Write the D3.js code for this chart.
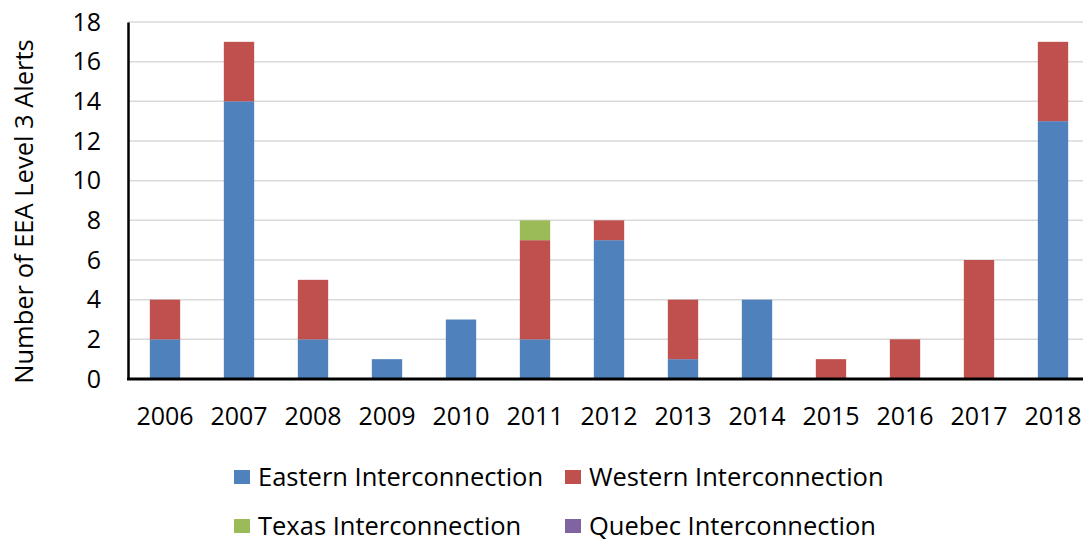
<!DOCTYPE html>
<html>
<head>
<meta charset="utf-8">
<script src="https://cdn.jsdelivr.net/npm/d3@7"></script>
<style>
  body { margin: 0; background: #fff; }
  svg { display: block; }
  text { font-family: "Open Sans", sans-serif; fill: #000; }
</style>
</head>
<body>
<svg id="chart" width="1083" height="542"></svg>
<script>
const years = ["2006","2007","2008","2009","2010","2011","2012","2013","2014","2015","2016","2017","2018"];
const eastern = [2,14,2,1,3,2,7,1,4,0,0,0,13];
const western = [2,3,3,0,0,5,1,3,0,1,2,6,4];
const texas   = [0,0,0,0,0,1,0,0,0,0,0,0,0];
const quebec  = [0,0,0,0,0,0,0,0,0,0,0,0,0];
const seriesNames = ["Eastern Interconnection","Western Interconnection","Texas Interconnection","Quebec Interconnection"];
const seriesColors = ["#4f81bd","#c0504d","#9bbb59","#8064a2"];
const yTicks = [0,2,4,6,8,10,12,14,16,18];
const yLabel = "Number of EEA Level 3 Alerts";

const svg = d3.select("#chart");
const mLeft = 128, mTop = 22, mBottom = 379, step = 74;
const x = d3.scaleBand().domain(years).range([mLeft, mLeft + step * years.length]).paddingInner(0.59).paddingOuter(0.295);
const y = d3.scaleLinear().domain([0, 18]).range([mBottom, mTop]);

// gridlines
svg.append("g").selectAll("line").data(yTicks.filter(d => d > 0)).join("line")
  .attr("x1", mLeft).attr("x2", 1083)
  .attr("y1", d => y(d)).attr("y2", d => y(d))
  .attr("stroke", "#d9d9d9").attr("stroke-width", 1.5);

// stacked bars
const keys = ["eastern","western","texas","quebec"];
const rows = years.map((yr, i) => ({year: yr, eastern: eastern[i], western: western[i], texas: texas[i], quebec: quebec[i]}));
const stacked = d3.stack().keys(keys)(rows);
svg.append("g").selectAll("g").data(stacked).join("g")
  .attr("fill", (d, i) => seriesColors[i])
  .selectAll("rect").data(d => d.filter(s => s[1] - s[0] > 0)).join("rect")
  .attr("x", d => x(d.data.year))
  .attr("width", x.bandwidth())
  .attr("y", d => y(d[1]))
  .attr("height", d => y(d[0]) - y(d[1]));

// y axis
const yAxis = svg.append("g").attr("transform", `translate(${mLeft},0)`)
  .call(d3.axisLeft(y).tickValues(yTicks).tickSize(0).tickPadding(27));
yAxis.select(".domain").attr("stroke", "#000").attr("stroke-width", 2.5);
yAxis.selectAll("text").style("font-size", "25px").style("font-family", "Open Sans");

// x axis
const xAxis = svg.append("g").attr("transform", `translate(0,${mBottom})`)
  .call(d3.axisBottom(x).tickSize(0).tickPadding(28));
xAxis.select(".domain").remove();
xAxis.append("line").attr("x1", mLeft - 1).attr("x2", 1083).attr("y1", 0).attr("y2", 0)
  .attr("stroke", "#000").attr("stroke-width", 3);
xAxis.selectAll("text").style("font-size", "25px").style("font-family", "Open Sans");

// y label
svg.append("text")
  .attr("transform", `translate(33,${(mTop + mBottom) / 2 + 11}) rotate(-90)`)
  .attr("text-anchor", "middle")
  .style("font-size", "25.5px")
  .text(yLabel);

// legend
const legPos = [[234, 477], [565, 477], [234, 526], [565, 526]];
const leg = svg.append("g").selectAll("g").data(seriesNames).join("g")
  .attr("transform", (d, i) => `translate(${legPos[i][0]},${legPos[i][1]})`);
leg.append("rect").attr("x", 0).attr("y", -7).attr("width", 16).attr("height", 14)
  .attr("fill", (d, i) => seriesColors[i]);
leg.append("text").attr("x", 24).attr("y", 9).style("font-size", "25.5px").text(d => d);
</script>
</body>
</html>
